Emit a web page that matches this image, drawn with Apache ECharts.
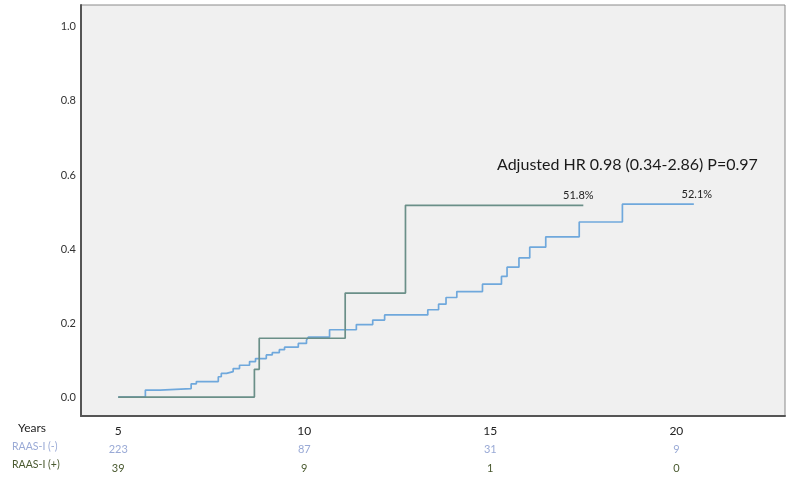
<!DOCTYPE html>
<html>
<head>
<meta charset="utf-8">
<script src="https://cdn.jsdelivr.net/npm/echarts@6/dist/echarts.min.js"></script>
<style>
  html, body { margin: 0; padding: 0; background: #fff; }
  #chart { width: 789px; height: 478px; }
</style>
</head>
<body>
<div id="chart"></div>
<script>
// cumulative incidence, landmark at 5 years
const raasNeg = [
  [5, 0], [5.73, 0.019], [6.13, 0.023], [6.96, 0.036], [7.10, 0.042],
  [7.69, 0.055], [7.77, 0.064], [7.91, 0.069], [8.09, 0.077], [8.26, 0.086],
  [8.53, 0.096], [8.69, 0.104], [8.98, 0.114], [9.14, 0.120], [9.33, 0.128],
  [9.47, 0.135], [9.84, 0.145], [10.06, 0.154], [10.11, 0.162], [10.68, 0.182],
  [11.40, 0.196], [11.84, 0.208], [12.16, 0.222], [13.32, 0.236], [13.61, 0.251],
  [13.81, 0.269], [14.10, 0.285], [14.79, 0.305], [15.30, 0.326], [15.45, 0.351],
  [15.77, 0.376], [16.06, 0.405], [16.49, 0.433], [17.39, 0.473], [18.55, 0.521],
  [20.47, 0.521],
];
const raasPos = [
  [5, 0], [8.66, 0.075], [8.79, 0.159], [11.10, 0.281], [12.72, 0.518], [17.5, 0.518],
];
const endLabels = { neg: "52.1%", pos: "51.8%" };

const yearTicks = [5, 10, 15, 20];
const atRiskNeg = { 5: 223, 10: 87, 15: 31, 20: 9 };
const atRiskPos = { 5: 39, 10: 9, 15: 1, 20: 0 };
const yTicks = [0, 0.2, 0.4, 0.6, 0.8, 1.0];

const NEG = "#6fa8dc";
const POS = "#6a8f88";
const NEG_TXT = "#9aaad6";
const POS_TXT = "#4a5a30";

function endLabel(text, dx) {
  return {
    show: true, formatter: text, distance: 0, offset: [dx, -4],
    align: "center", verticalAlign: "bottom",
    color: "#222", fontSize: 11, fontFamily: "Lato",
  };
}

const chart = echarts.init(document.getElementById("chart"), null, { renderer: "canvas" });
chart.setOption({
  animation: false,
  backgroundColor: "#fff",
  title: {
    text: "Adjusted HR 0.98 (0.34-2.86) P=0.97",
    left: 497, top: 157, padding: 0,
    textStyle: { color: "#1a1a1a", fontSize: 16, fontWeight: "normal", fontFamily: "Lato" },
  },
  grid: {
    left: 81, right: 4, top: 5, bottom: 62,
    show: true, backgroundColor: "#f0f0f0", borderColor: "#8a8a8a", borderWidth: 1,
  },
  xAxis: {
    type: "value", min: 4, max: 22.92,
    axisLine: { show: true, onZero: false, lineStyle: { color: "#555", width: 2 } },
    axisTick: { show: false },
    splitLine: { show: false },
    axisLabel: {
      customValues: yearTicks, margin: 6, lineHeight: 18.5,
      formatter: (v) => `{y|${v}}\n{n|${atRiskNeg[v]}}\n{p|${atRiskPos[v]}}`,
      rich: {
        y: { color: "#222", fontSize: 12, fontFamily: "Lato", lineHeight: 18.5 },
        n: { color: NEG_TXT, fontSize: 11, fontFamily: "Lato", lineHeight: 18.5 },
        p: { color: POS_TXT, fontSize: 11, fontFamily: "Lato", lineHeight: 18.5 },
      },
    },
  },
  yAxis: {
    type: "value", min: -0.051, max: 1.059,
    axisLine: { show: true, lineStyle: { color: "#555", width: 2 } },
    axisTick: { show: false },
    splitLine: { show: false },
    axisLabel: {
      customValues: yTicks, margin: 5, color: "#333", fontSize: 11, fontFamily: "Lato",
      formatter: (v) => v.toFixed(1),
    },
  },
  graphic: [
    { type: "text", left: 18, top: 422, style: { text: "Years", fill: "#222", font: "12px Lato" } },
    { type: "text", left: 12, top: 441, style: { text: "RAAS-I (-)", fill: NEG_TXT, font: "10.5px Lato" } },
    { type: "text", left: 12, top: 459, style: { text: "RAAS-I (+)", fill: POS_TXT, font: "10.5px Lato" } },
  ],
  series: [
    {
      name: "RAAS-I (-)", type: "line", step: "end", showSymbol: false, symbol: "none",
      lineStyle: { color: NEG, width: 1.7 }, z: 3,
      endLabel: endLabel(endLabels.neg, 3),
      data: raasNeg,
    },
    {
      name: "RAAS-I (+)", type: "line", step: "end", showSymbol: false, symbol: "none",
      lineStyle: { color: POS, width: 1.7 }, z: 4,
      endLabel: endLabel(endLabels.pos, -5),
      data: raasPos,
    },
  ],
});
</script>
</body>
</html>
